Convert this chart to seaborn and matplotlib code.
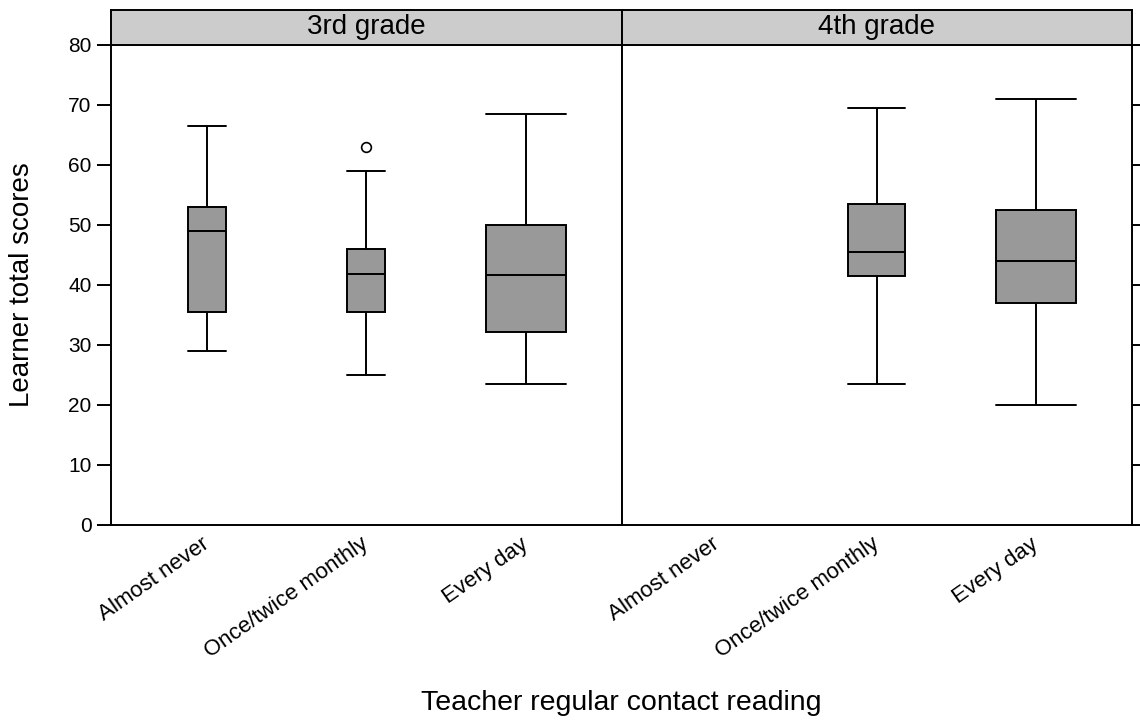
import pandas as pd
import seaborn as sns
import matplotlib.pyplot as plt

grades = ["3rd grade", "4th grade"]
contact_levels = ["Almost never", "Once/twice monthly", "Every day"]

# one entry per drawn box (4th grade has no "Almost never" box)
box_grade = ["3rd grade", "3rd grade", "3rd grade", "4th grade", "4th grade"]
box_contact = ["Almost never", "Once/twice monthly", "Every day",
               "Once/twice monthly", "Every day"]
whisker_low = [29.0, 25.0, 23.5, 23.5, 20.0]
quartile_1 = [35.5, 35.5, 32.2, 41.5, 37.0]
median = [49.0, 41.8, 41.7, 45.5, 44.0]
quartile_3 = [53.0, 46.0, 50.0, 53.5, 52.5]
whisker_high = [66.5, 59.0, 68.5, 69.5, 71.0]
# box widths differ by group size (varwidth style)
box_width = [0.24, 0.24, 0.5, 0.36, 0.5]

outlier_grade = ["3rd grade"]
outlier_contact = ["Once/twice monthly"]
outlier_score = [63.0]

BOX_FILL = "#999999"
STRIP_FILL = "#CCCCCC"
LW = 1.4


def build_box_table():
    rows = []
    for i in range(len(box_grade)):
        summary = (whisker_low[i], quartile_1[i], median[i], quartile_3[i], whisker_high[i])
        for v in summary:
            rows.append({"box": i, "grade": box_grade[i],
                         "contact": box_contact[i], "score": v})
    return pd.DataFrame(rows)


boxes = build_box_table()
outliers = pd.DataFrame({"grade": outlier_grade, "contact": outlier_contact,
                         "score": outlier_score})

sns.set_style("white")
plt.rcParams["font.family"] = ["Liberation Sans", "DejaVu Sans"]
plt.rcParams["text.color"] = "black"

W, H = 1140, 725
fig, axes = plt.subplots(1, 2, figsize=(W / 100, H / 100), dpi=100, sharey=True)
fig.subplots_adjust(left=111 / W, right=1132 / W, bottom=1 - 525 / H,
                    top=1 - 45 / H, wspace=0)

for i, sub in boxes.groupby("box"):
    ax = axes[grades.index(box_grade[i])]
    sns.boxplot(data=sub, x="contact", y="score", order=contact_levels,
                width=box_width[i], whis=(0, 100), color=BOX_FILL, saturation=1,
                linecolor="black", linewidth=LW, capwidths=box_width[i], ax=ax)

for g, sub in outliers.groupby("grade"):
    sns.stripplot(data=sub, x="contact", y="score", order=contact_levels,
                  jitter=False, color="white", edgecolor="black", linewidth=1.2,
                  size=7, ax=axes[grades.index(g)])

for ax, g in zip(axes, grades):
    ax.set_xlim(-0.6, 2.6)
    ax.set_ylim(0, 80)
    ax.set_yticks(range(0, 81, 10))
    ax.set_xlabel("")
    ax.set_ylabel("")
    for s in ax.spines.values():
        s.set_visible(True)
        s.set_color("black")
        s.set_linewidth(LW)
    ax.tick_params(axis="x", length=0, pad=12.5, labelsize=16, colors="black")
    plt.setp(ax.get_xticklabels(), rotation=35, ha="right", va="center",
             rotation_mode="anchor")

    pos = ax.get_position()
    strip = fig.add_axes([pos.x0, pos.y1, pos.width, 35 / H])
    strip.set_facecolor(STRIP_FILL)
    strip.set_xticks([])
    strip.set_yticks([])
    for s in strip.spines.values():
        s.set_visible(True)
        s.set_color("black")
        s.set_linewidth(LW)
    strip.text(0.5, 0.5, g, ha="center", va="center", fontsize=20,
               color="black", transform=strip.transAxes)

axes[0].tick_params(axis="y", left=True, right=False, direction="out", length=10,
                    width=LW, labelsize=15, pad=4, colors="black")
axes[1].tick_params(axis="y", left=False, right=True, labelleft=False,
                    labelright=False, direction="out", length=10, width=LW,
                    colors="black")

fig.text(621 / W, 1 - 703 / H, "Teacher regular contact reading",
         ha="center", va="center", fontsize=20.5, color="black")
fig.text(22 / W, 1 - 285 / H, "Learner total scores", rotation=90,
         ha="center", va="center", fontsize=20, color="black")

fig.savefig("out.png", dpi=100)
